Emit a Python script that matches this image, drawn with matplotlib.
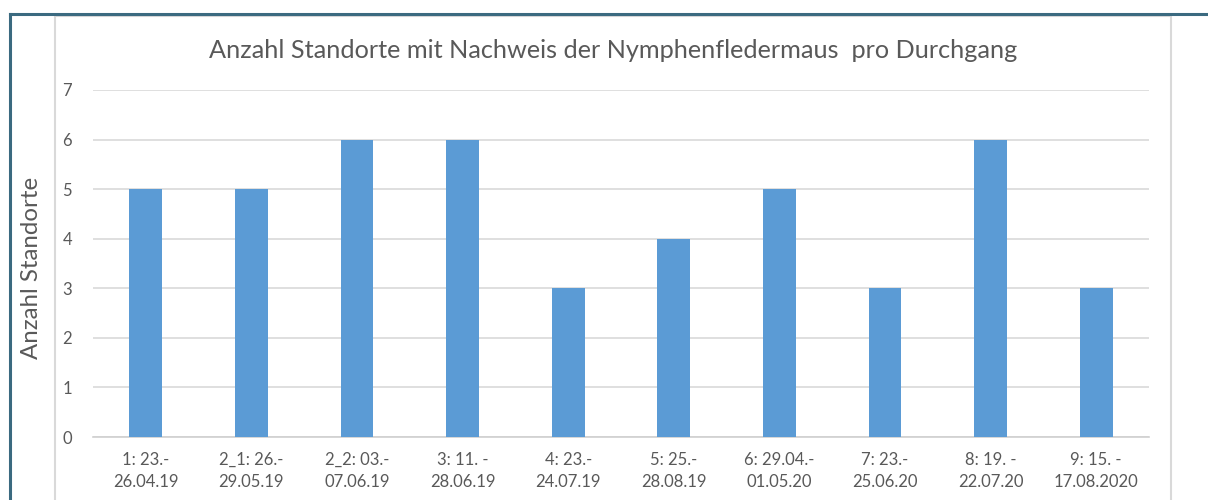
import matplotlib.pyplot as plt
from matplotlib.lines import Line2D
from matplotlib.patches import Rectangle

# Data
labels = ['1: 23.-\n26.04.19', '2_1: 26.-\n29.05.19', '2_2: 03.-\n07.06.19',
          '3: 11. -\n28.06.19', '4: 23.-\n24.07.19', '5: 25.-\n28.08.19',
          '6: 29.04.-\n01.05.20', '7: 23.-\n25.06.20', '8: 19. -\n22.07.20',
          '9: 15. -\n17.08.2020']
counts = [5, 5, 6, 6, 3, 4, 5, 3, 6, 3]
yticks = [0, 1, 2, 3, 4, 5, 6, 7]

W, H = 1208, 500
plt.rcParams['font.family'] = ['Lato', 'DejaVu Sans']
fig = plt.figure(figsize=(W / 100, H / 100), dpi=100)

# outer dark frame and inner chart border
fig.add_artist(Line2D([10 / W, 1], [1 - 14 / H, 1 - 14 / H], color='#3b6a80', lw=2.2))
fig.add_artist(Line2D([10 / W, 10 / W], [0, 1 - 14 / H], color='#3b6a80', lw=2.2))
fig.add_artist(Rectangle((55 / W, -0.05), (1171 - 55) / W, 1.05 - 16 / H,
                         fill=False, edgecolor='#d9d9d9', lw=1.5))

ax = fig.add_axes([93 / W, 1 - 437 / H, (1149 - 93) / W, (437 - 90) / H])
x = range(len(labels))
ax.bar(x, counts, width=0.31, color='#5b9bd5', zorder=3)
ax.set_xlim(-0.5, len(labels) - 0.5)
ax.set_ylim(0, 7)
ax.set_yticks(yticks)
ax.set_xticks(list(x))
ax.set_xticklabels(labels, fontsize=12, color='#595959', linespacing=1.45)
ax.tick_params(axis='y', length=0, pad=15, labelsize=12, labelcolor='#595959')
ax.tick_params(axis='x', length=0, pad=11)
ax.yaxis.grid(True, color='#d9d9d9', lw=1.2, zorder=0)
for s in ['top', 'right', 'left']:
    ax.spines[s].set_visible(False)
ax.spines['bottom'].set_color('#d0d0d0')
ax.spines['bottom'].set_linewidth(1.2)

fig.text(613 / W, 1 - 50 / H,
         'Anzahl Standorte mit Nachweis der Nymphenfledermaus  pro Durchgang',
         ha='center', va='center', fontsize=18.2, color='#595959')
fig.text(32 / W, 1 - 268 / H, 'Anzahl Standorte', rotation=90,
         ha='center', va='center', fontsize=17.3, color='#595959')

fig.savefig('out.png', dpi=100)
